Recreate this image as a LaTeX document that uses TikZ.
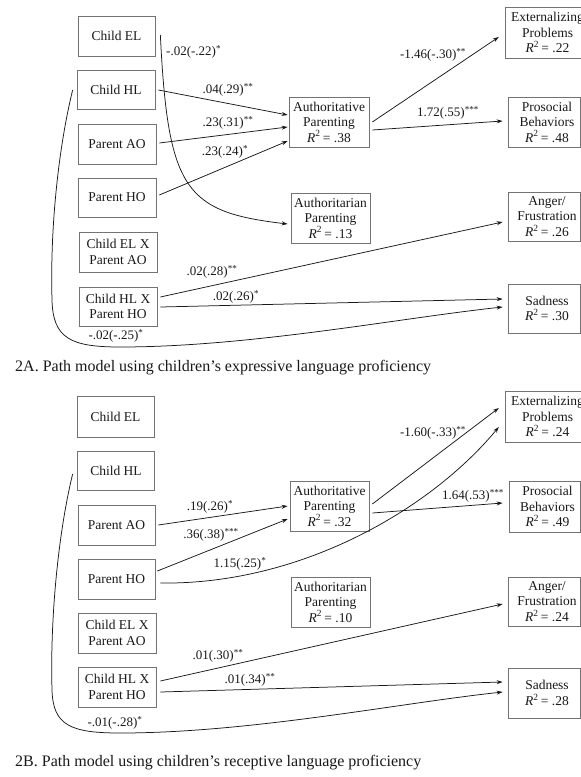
\documentclass[tikz,border=0pt]{standalone}
\usepackage{fontspec}
\setmainfont{Liberation Serif}
\usetikzlibrary{arrows.meta,calc}
\newcommand\Rsq[1]{\textit{R}\textsuperscript{2}\,= #1}
\begin{document}
\begin{tikzpicture}[x=1pt,y=-1pt,
  bx/.style={draw=black!55, line width=0.7pt, inner sep=0pt, align=center,
     font=\fontsize{13.5}{15.5}\selectfont, text=black!90},
  lbl/.style={inner sep=0pt, font=\fontsize{13}{15}\selectfont, text=black!90},
  arr/.style={-{Stealth[length=6pt,width=4pt]}, line width=0.75pt, draw=black!90},
  captext/.style={anchor=west, inner sep=0pt, font=\fontsize{16}{18}\selectfont, text=black!90}]
\useasboundingbox (0,0) rectangle (581,777);
\fill[white] (0,0) rectangle (581,777);

% ---------------- Panel A ----------------
\node[bx, minimum width=77pt, minimum height=40pt] (cela) at (116.5,36) {Child EL};
\node[bx, minimum width=78pt, minimum height=39pt] (chla) at (116,89.5) {Child HL};
\node[bx, minimum width=78pt, minimum height=40pt] (paoa) at (117,144) {Parent AO};
\node[bx, minimum width=78pt, minimum height=39pt] (phoa) at (117,197.5) {Parent HO};
\node[bx, minimum width=78pt, minimum height=40pt] (celxa) at (118,252) {Child EL X\\Parent AO};
\node[bx, minimum width=78pt, minimum height=39pt] (chlxa) at (118,306.5) {Child HL X\\Parent HO};
\node[bx, minimum width=80pt, minimum height=50pt] (autha) at (329,122) {Authoritative\\Parenting\\\Rsq{.38}};
\node[bx, minimum width=71pt, minimum height=51pt] (exta) at (544.5,32.5) {\hspace*{6pt}Externalizing\\\hspace*{6pt}Problems\\\hspace*{6pt}\Rsq{.22}};
\node[bx, minimum width=72pt, minimum height=50pt] (proa) at (544,122) {\hspace*{6pt}Prosocial\\\hspace*{6pt}Behaviors\\\hspace*{6pt}\Rsq{.48}};
\node[bx, minimum width=79pt, minimum height=50pt] (autna) at (330.5,218) {Authoritarian\\Parenting\\\Rsq{.13}};
\node[bx, minimum width=72pt, minimum height=49pt] (anga) at (544,216.5) {\hspace*{6pt}Anger/\\\hspace*{6pt}Frustration\\\hspace*{6pt}\Rsq{.26}};
\node[bx, minimum width=72pt, minimum height=49pt] (sada) at (544,308.5) {\hspace*{6pt}Sadness\\\hspace*{6pt}\Rsq{.30}};

\draw[arr] ($(cela.east)+(5,-1)$) .. controls (168,190) and (185,212) .. ($(autna.west)+(-3,6)$);
\draw[arr] ($(chla.east)+(3,0.5)$) -- ($(autha.west)+(-1,-7)$);
\draw[arr] ($(paoa.east)+(3,-1)$) -- ($(autha.west)+(-1,5)$);
\draw[arr] ($(phoa.east)+(3,-2.5)$) -- ($(autha.west)+(-1,19)$);
\draw[arr] ($(autha.east)+(3,0)$) -- ($(exta.west)+(-6,4.5)$);
\draw[arr] ($(autha.east)+(3,8)$) -- ($(proa.west)+(-5,-1)$);
\draw[arr] ($(chlxa.east)+(3,-9.5)$) -- ($(anga.west)+(-5,5.5)$);
\draw[arr] ($(chlxa.east)+(3,0.5)$) -- ($(sada.west)+(-5,-9.5)$);
\coordinate (sidea) at (52,300);
\coordinate (bota) at (120,347);
\draw[arr] ($(chla.west)+(-4,0.5)$) .. controls (58,150) and (50,230) .. (sidea)
   .. controls (53,338) and (70,347) .. (bota)
   .. controls (250,347) and (400,318) .. ($(sada.west)+(-5,-1.5)$);

\node[lbl, anchor=west] (la1) at (166,52) {-.02(-.22)\textsuperscript{*}};
\node[lbl] (la2) at (228,90) {.04(.29)\textsuperscript{**}};
\node[lbl] (la3) at (228,123) {.23(.31)\textsuperscript{**}};
\node[lbl] (la4) at (225,152) {.23(.24)\textsuperscript{*}};
\node[lbl] (la5) at (433,55) {-1.46(-.30)\textsuperscript{**}};
\node[lbl] (la6) at (448,113) {1.72(.55)\textsuperscript{***}};
\node[lbl] (la7) at (212,272) {.02(.28)\textsuperscript{**}};
\node[lbl] (la8) at (236,297) {.02(.26)\textsuperscript{*}};
\node[lbl] (la9) at (116,336) {-.02(-.25)\textsuperscript{*}};

\node[captext] (capa) at (15,368) {2A. Path model using children’s expressive language proficiency};

% ---------------- Panel B ----------------
\node[bx, minimum width=77pt, minimum height=41pt] (celb) at (115.5,416.5) {Child EL};
\node[bx, minimum width=77pt, minimum height=39pt] (chlb) at (116,470.5) {Child HL};
\node[bx, minimum width=77pt, minimum height=40pt] (paob) at (116.5,525) {Parent AO};
\node[bx, minimum width=77pt, minimum height=40pt] (phob) at (116.5,579) {Parent HO};
\node[bx, minimum width=78pt, minimum height=40pt] (celxb) at (117,633) {Child EL X\\Parent AO};
\node[bx, minimum width=78pt, minimum height=40pt] (chlxb) at (117,687) {Child HL X\\Parent HO};
\node[bx, minimum width=79pt, minimum height=50pt] (authb) at (329.5,506) {Authoritative\\Parenting\\\Rsq{.32}};
\node[bx, minimum width=71pt, minimum height=51pt] (extb) at (544.5,416.5) {\hspace*{6pt}Externalizing\\\hspace*{6pt}Problems\\\hspace*{6pt}\Rsq{.24}};
\node[bx, minimum width=71pt, minimum height=51pt] (prob) at (544.5,506.5) {\hspace*{6pt}Prosocial\\\hspace*{6pt}Behaviors\\\hspace*{6pt}\Rsq{.49}};
\node[bx, minimum width=79pt, minimum height=50pt] (autnb) at (330.5,602) {Authoritarian\\Parenting\\\Rsq{.10}};
\node[bx, minimum width=72pt, minimum height=49pt] (angb) at (544,601.5) {\hspace*{6pt}Anger/\\\hspace*{6pt}Frustration\\\hspace*{6pt}\Rsq{.24}};
\node[bx, minimum width=72pt, minimum height=50pt] (sadb) at (544,693) {\hspace*{6pt}Sadness\\\hspace*{6pt}\Rsq{.28}};

\draw[arr] ($(paob.east)+(3,0)$) -- ($(authb.west)+(-2,0)$);
\draw[arr] ($(phob.east)+(2,-8)$) -- ($(authb.west)+(-2,13)$);
\draw[arr] ($(phob.east)+(5,4)$) .. controls (300,585) and (430,510) .. ($(extb.west)+(-6,10.5)$);
\draw[arr] ($(authb.east)+(3,-2)$) -- ($(extb.west)+(-6,-8.5)$);
\draw[arr] ($(authb.east)+(3,7)$) -- ($(prob.west)+(-6,-3.5)$);
\draw[arr] ($(chlxb.east)+(4,-6)$) -- ($(angb.west)+(-5,2.5)$);
\draw[arr] ($(chlxb.east)+(4,5)$) -- ($(sadb.west)+(-5,-11)$);
\coordinate (sideb) at (52,690);
\coordinate (botb) at (120,733);
\draw[arr] ($(chlb.west)+(-4.5,3.5)$) .. controls (58,534) and (50,620) .. (sideb)
   .. controls (53,725) and (70,733) .. (botb)
   .. controls (250,733) and (400,703) .. ($(sadb.west)+(-5,-1)$);

\node[lbl] (lb1) at (210,507) {.19(.26)\textsuperscript{*}};
\node[lbl] (lb2) at (211,535) {.36(.38)\textsuperscript{***}};
\node[lbl] (lb3) at (240,564) {1.15(.25)\textsuperscript{*}};
\node[lbl] (lb4) at (433,433) {-1.60(-.33)\textsuperscript{**}};
\node[lbl] (lb5) at (473,496) {1.64(.53)\textsuperscript{***}};
\node[lbl] (lb6) at (218,656) {.01(.30)\textsuperscript{**}};
\node[lbl] (lb7) at (250,680) {.01(.34)\textsuperscript{**}};
\node[lbl] (lb8) at (115,723) {-.01(-.28)\textsuperscript{*}};

\node[captext] (capb) at (15,763) {2B. Path model using children’s receptive language proficiency};
\end{tikzpicture}
\end{document}
